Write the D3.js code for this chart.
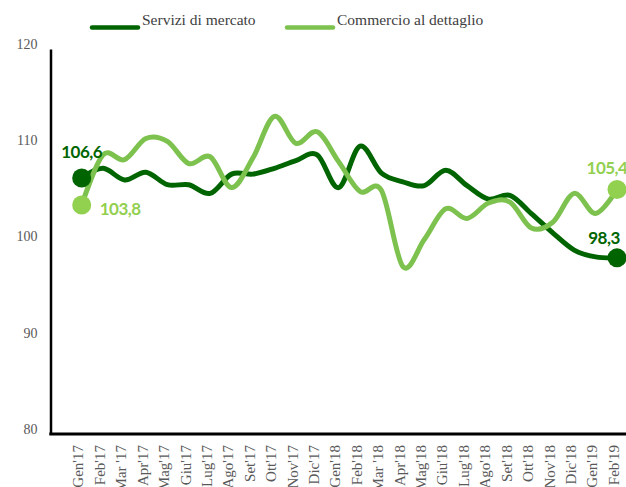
<!DOCTYPE html>
<html>
<head>
<meta charset="utf-8">
<script src="https://cdn.jsdelivr.net/npm/d3@7"></script>
<style>
  html, body { margin: 0; padding: 0; background: #fff; }
  svg { display: block; }
</style>
</head>
<body>
<svg id="chart" width="626" height="487"></svg>
<script>
// Monthly indices, Jan 2017 – Feb 2019
const months = ["Gen'17","Feb'17","Mar '17","Apr'17","Mag'17","Giu'17","Lug'17","Ago'17","Set'17","Ott'17","Nov'17","Dic'17",
                "Gen'18","Feb'18","Mar '18","Apr'18","Mag'18","Giu'18","Lug'18","Ago'18","Set'18","Ott'18","Nov'18","Dic'18",
                "Gen'19","Feb'19"];
const serviziMercato = [106.6,107.6,106.4,107.2,105.9,105.9,105.0,107.0,107.0,107.6,108.4,109.0,
                        105.6,109.9,107.1,106.2,105.8,107.4,105.8,104.4,104.8,102.9,100.9,99.1,98.4,98.3];
const commercioDettaglio = [103.8,109.0,108.5,110.7,110.4,108.1,108.8,105.6,108.7,113.0,110.2,111.4,
                            108.3,105.2,105.3,97.4,100.2,103.4,102.4,104.0,104.1,101.4,102.0,105.0,102.9,105.4];
const yTicks = [80, 90, 100, 110, 120];
const seriesNames = ["Servizi di mercato", "Commercio al dettaglio"];

const darkGreen = "#006400";
const lightGreen = "#7dc24e";
const lightDot = "#92d050";
const serif = "'Liberation Serif', 'DejaVu Serif', serif";
const sans = "Lato, 'Open Sans', sans-serif";

const svg = d3.select("#chart");

const x = d3.scalePoint().domain(months).range([81.7, 617]);
const y = d3.scaleLinear().domain([80, 120]).range([434, 49]);

// Y axis
const yAxis = svg.append("g")
  .attr("transform", "translate(50.5,0)")
  .call(d3.axisLeft(y).tickValues(yTicks).tickSize(0).tickSizeOuter(0).tickPadding(13).tickFormat(d3.format("d")));
yAxis.select(".domain").attr("stroke", "#000").attr("stroke-width", 2.5);
yAxis.selectAll("text")
  .attr("font-family", serif).attr("font-size", 14).attr("fill", "#595959")
  .attr("dy", "-0.05em");

// X axis: labels rotated, baseline drawn across the full width
const xAxis = svg.append("g")
  .attr("transform", `translate(0,${y(80)})`)
  .call(d3.axisBottom(x).tickSize(0).tickSizeOuter(0));
xAxis.select(".domain").remove();
xAxis.selectAll(".tick text")
  .attr("font-family", serif).attr("font-size", 15).attr("fill", "#595959")
  .attr("text-anchor", "end")
  .attr("transform", "rotate(-90)")
  .attr("x", -11).attr("y", -4).attr("dy", "0.35em");
svg.append("line")
  .attr("x1", 49.3).attr("x2", 626)
  .attr("y1", y(80)).attr("y2", y(80))
  .attr("stroke", "#000").attr("stroke-width", 3);

// Smoothed lines
const line = d3.line()
  .x((d, i) => x(months[i]))
  .y(d => y(d))
  .curve(d3.curveCardinal.tension(0));

svg.append("path").datum(serviziMercato)
  .attr("d", line).attr("fill", "none")
  .attr("stroke", darkGreen).attr("stroke-width", 5).attr("stroke-linejoin", "round");
svg.append("path").datum(commercioDettaglio)
  .attr("d", line).attr("fill", "none")
  .attr("stroke", lightGreen).attr("stroke-width", 5).attr("stroke-linejoin", "round");

// End point markers and value labels
const last = months.length - 1;
const fmt = v => d3.format(".1f")(v).replace(".", ",");
const endPoints = [
  { v: serviziMercato[0], i: 0, fill: darkGreen, lx: 0, ly: -26, anchor: "middle", color: darkGreen },
  { v: serviziMercato[last], i: last, fill: darkGreen, lx: -13, ly: -20, anchor: "middle", color: darkGreen },
  { v: commercioDettaglio[0], i: 0, fill: lightDot, lx: 18, ly: 4, anchor: "start", color: lightDot },
  { v: commercioDettaglio[last], i: last, fill: lightDot, lx: -10, ly: -21, anchor: "middle", color: lightDot }
];
svg.selectAll("circle.end").data(endPoints).join("circle")
  .attr("class", "end")
  .attr("cx", d => x(months[d.i])).attr("cy", d => y(d.v))
  .attr("r", 9.5).attr("fill", d => d.fill);
svg.selectAll("text.val").data(endPoints).join("text")
  .attr("class", "val")
  .attr("x", d => x(months[d.i]) + d.lx).attr("y", d => y(d.v) + d.ly)
  .attr("dy", "0.35em")
  .attr("text-anchor", d => d.anchor)
  .attr("font-family", sans).attr("font-weight", "bold").attr("font-size", 17)
  .attr("letter-spacing", "-0.5px")
  .attr("fill", d => d.color)
  .text(d => fmt(d.v));

// Legend
const legend = [
  { name: seriesNames[0], color: darkGreen, x0: 92 },
  { name: seriesNames[1], color: lightGreen, x0: 287 }
];
const lg = svg.selectAll("g.legend").data(legend).join("g").attr("class", "legend");
lg.append("line")
  .attr("x1", d => d.x0).attr("x2", d => d.x0 + 46)
  .attr("y1", 27.5).attr("y2", 27.5)
  .attr("stroke", d => d.color).attr("stroke-width", 4.5).attr("stroke-linecap", "round");
lg.append("text")
  .attr("x", d => d.x0 + 50).attr("y", 25)
  .attr("font-family", serif).attr("font-size", 15.5).attr("fill", "#404040")
  .text(d => d.name);
</script>
</body>
</html>
